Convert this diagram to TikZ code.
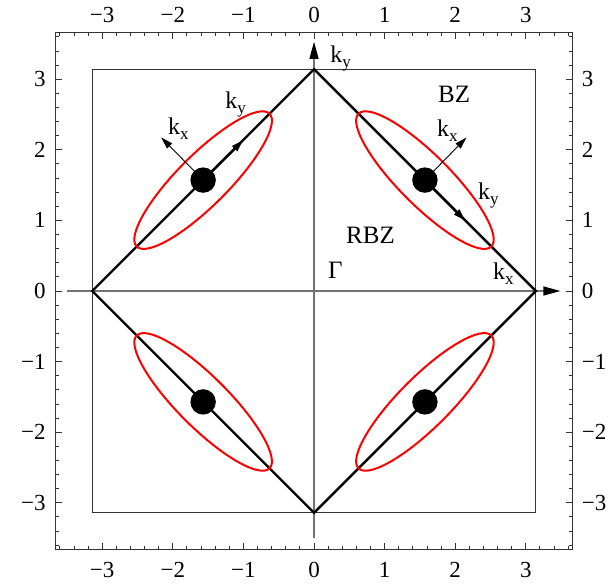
\documentclass[tikz,border=0pt]{standalone}
\usepackage{fontspec}
\setmainfont{Liberation Serif}
\usetikzlibrary{arrows.meta}
\newcommand\ksub[1]{k\raisebox{-5pt}{\fontsize{17}{17}\selectfont #1}}
\begin{document}
\begin{tikzpicture}[x=70.6pt,y=70.6pt,
  thinline/.style={line width=0.9pt, black!80},
  axisline/.style={line width=1.2pt, black!55},
  bzline/.style={line width=2.4pt, black, line join=miter},
  fermi/.style={line width=2pt, red},
  bigtip/.style={-{Triangle[length=17pt,width=9pt,color=black,fill=black]}},
  smalltip/.style={-{Triangle[length=12pt,width=7pt]}},
  lab/.style={inner sep=0pt, anchor=base west, font=\fontsize{24}{24}\selectfont},
  labbig/.style={inner sep=0pt, anchor=base west, font=\fontsize{25}{25}\selectfont},
  ticklab/.style={inner sep=0pt, font=\fontsize{23}{23}\selectfont}]
\useasboundingbox (-4.448,-4.193) rectangle (4.249,4.122);
% frame
\draw[thinline] (-3.665,-3.665) rectangle (3.665,3.665);
\foreach \i in {-18,...,18}{
  \pgfmathsetmacro\t{\i/5}
  \draw[thinline] (\t,-3.665) -- ++(0,0.055);
  \draw[thinline] (\t,3.665) -- ++(0,-0.055);
  \draw[thinline] (-3.665,\t) -- ++(0.055,0);
  \draw[thinline] (3.665,\t) -- ++(-0.055,0);
}
\foreach \t in {-3,...,3}{
  \draw[thinline] (\t,-3.665) -- ++(0,0.1);
  \draw[thinline] (\t,3.665) -- ++(0,-0.1);
  \draw[thinline] (-3.665,\t) -- ++(0.1,0);
  \draw[thinline] (3.665,\t) -- ++(-0.1,0);
}
\foreach \t/\s in {-3/−3,-2/−2,-1/−1,0/0,1/1,2/2,3/3}{
  \node[ticklab, anchor=north] (bl\t) at (\t,-3.84) {\s};
  \node[ticklab, anchor=south] (tl\t) at (\t,3.80) {\s};
  \node[ticklab, anchor=east] (ll\t) at (-3.80,\t) {\s};
  \node[ticklab, anchor=west] (rl\t) at (3.79,\t) {\s};
}
% axes
\coordinate (xs) at (-3.5,0);
\coordinate (xe) at (3.49,0);
\coordinate (ys) at (0,-3.5);
\coordinate (ye) at (0,3.53);
\draw[axisline, bigtip] (xs) -- (xe);
\draw[axisline, bigtip] (ys) -- (ye);
% BZ square
\draw[thinline] (-3.1416,-3.1416) rectangle (3.1416,3.1416);
% RBZ diamond
\coordinate (R) at (3.1416,0);
\coordinate (T) at (0,3.1416);
\coordinate (L) at (-3.1416,0);
\coordinate (B) at (0,-3.1416);
\draw[bzline] (R) -- (T) -- (L) -- (B) -- cycle;
% pockets
\foreach \cx/\cy/\ang/\n in {-1.5708/1.5708/45/1, 1.5708/1.5708/-45/2, -1.5708/-1.5708/-45/3, 1.5708/-1.5708/45/4}{
  \begin{scope}[shift={(\cx,\cy)}, rotate=\ang]
    \draw[fermi] (0,0) ellipse [x radius=1.33, y radius=0.36];
  \end{scope}
  \coordinate (c\n) at (\cx,\cy);
}
% arrows
\coordinate (ax1) at (-2.165,2.175);
\coordinate (ay1) at (-1.005,2.135);
\coordinate (ax2) at (2.16,2.175);
\coordinate (ay2) at (2.14,1.0);
\draw[thinline, black, smalltip] (c1) -- (ax1);
\draw[bzline, smalltip] (c1) -- (ay1);
\draw[thinline, black, smalltip] (c2) -- (ax2);
\draw[bzline, smalltip] (c2) -- (ay2);
% dots
\foreach \n in {1,2,3,4}{
  \fill (c\n) circle (0.18);
}
% labels
\node[lab] (kyT) at (0.227,3.23) {\ksub{y}};
\node[lab] (ky1) at (-1.26,2.59) {\ksub{y}};
\node[lab] (kx1) at (-2.07,2.21) {\ksub{x}};
\node[lab] (kx2) at (1.742,2.195) {\ksub{x}};
\node[lab] (ky2) at (2.32,1.29) {\ksub{y}};
\node[lab] (kx3) at (2.535,0.156) {\ksub{x}};
\node[labbig] (rbz) at (0.453,0.666) {RBZ};
\node[labbig] (gam) at (0.198,0.184) {Γ};
\node[labbig] (bz) at (1.756,2.663) {BZ};
\end{tikzpicture}
\end{document}
